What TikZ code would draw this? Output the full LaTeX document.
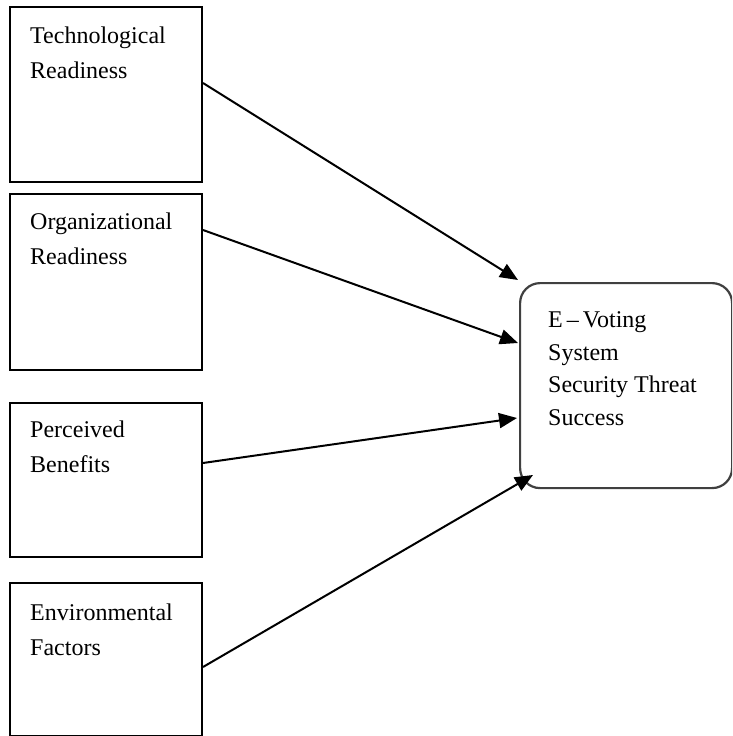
\documentclass[tikz,border=0pt]{standalone}
\usepackage{fontspec}
\setmainfont{Liberation Serif}
\usetikzlibrary{arrows.meta}
\tikzset{
  factorbox/.style={draw=black, line width=2pt, rectangle, inner sep=0pt, anchor=north west},
  targetbox/.style={draw=black!75, line width=2.2pt, rectangle, rounded corners=20pt, inner sep=0pt, anchor=north west},
  boxtext/.style={anchor=north west, inner sep=0pt, align=left, text=black,
    font={\fontsize{24}{35}\selectfont}},
  targettext/.style={boxtext, font={\fontsize{24}{32.5}\selectfont}},
  link/.style={draw=black, line width=2pt, -{Triangle[length=18pt,width=15pt]}}
}
\begin{document}
\begin{tikzpicture}[x=1pt,y=-1pt]
\clip (0,0) rectangle (732,736);
\fill[white] (0,0) rectangle (732,736);
% factor boxes
\node[factorbox, minimum width=192pt, minimum height=175pt] (b1) at (9,6) {};
\node[factorbox, minimum width=192pt, minimum height=176pt] (b2) at (9,193) {};
\node[factorbox, minimum width=192pt, minimum height=154pt] (b3) at (9,402) {};
\node[factorbox, minimum width=192pt, minimum height=153pt] (b4) at (9,582) {};
% target box
\node[targetbox, minimum width=212pt, minimum height=205pt] (r) at (519,282) {};
% texts
\node[boxtext] (t1) at (30,26.5) {Technological\\Readiness};
\node[boxtext] (t2) at (30,212.5) {Organizational\\Readiness};
\node[boxtext] (t3) at (30,421) {Perceived\\Benefits};
\node[boxtext] (t4) at (30,603.5) {Environmental\\Factors};
\node[targettext] (tr) at (548,311.5) {E\,–\,Voting\\System\\Security Threat\\Success};
% connector end points
\coordinate (s1) at ([yshift=-77pt]b1.north east);
\coordinate (s2) at ([yshift=-37pt]b2.north east);
\coordinate (s3) at ([yshift=-61pt]b3.north east);
\coordinate (s4) at ([yshift=-85pt]b4.north east);
\coordinate (e1) at ([shift={(-1pt,2pt)}]r.north west);
\coordinate (e2) at ([shift={(-1pt,-61pt)}]r.north west);
\coordinate (e3) at ([shift={(-2pt,-136pt)}]r.north west);
\coordinate (e4) at ([shift={(14pt,-193pt)}]r.north west);
\draw[link] (s1) -- (e1);
\draw[link] (s2) -- (e2);
\draw[link] (s3) -- (e3);
\draw[link] (s4) -- (e4);
\end{tikzpicture}
\end{document}
